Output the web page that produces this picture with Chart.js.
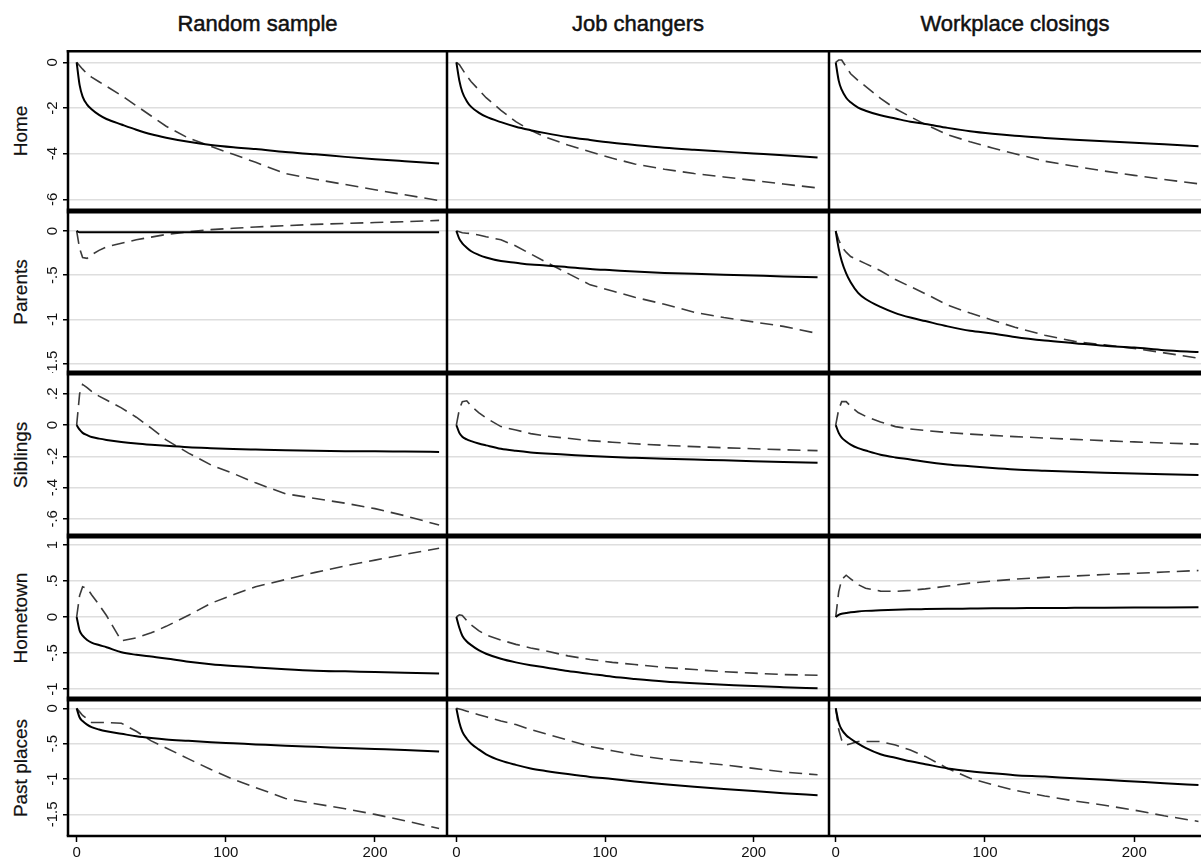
<!DOCTYPE html>
<html lang="en">
<head>
<meta charset="UTF-8">
<title>Distance profiles</title>
<script src="https://cdn.jsdelivr.net/npm/chart.js"></script>
<style>
  html, body { margin: 0; padding: 0; }
  body {
    width: 1201px; height: 865px; overflow: hidden; position: relative;
    background: #fff; color: #111;
    font-family: 'Liberation Sans', Arial, sans-serif;
  }
  canvas { position: absolute; }
  .coltitle {
    position: absolute; top: 13px; height: 22px; line-height: 22px;
    text-align: center; font-size: 22px; -webkit-text-stroke: 0.5px #111;
  }
  .rowlabel { position: absolute; left: 20px; width: 0; height: 0; }
  .rowlabel span {
    position: absolute; left: 0; top: 0; white-space: nowrap;
    font-size: 19px; line-height: 19px; -webkit-text-stroke: 0.2px #111;
    transform: translate(-50%, -50%) rotate(-90deg);
  }
</style>
</head>
<body>
<script>
// months since move (shared x grid for every series)
const X = [0, 2, 4, 7, 10, 15, 20, 30, 40, 50, 60, 75, 90, 105, 120, 140, 160, 180, 200, 220, 243];
const xTicks = [0, 100, 200];

const columns = ['Random sample', 'Job changers', 'Workplace closings'];
const rows = ['Home', 'Parents', 'Siblings', 'Hometown', 'Past places'];

const yTicksHome = [0, -2, -4, -6];
const yTicksParents = [0, -0.5, -1, -1.5];
const yTicksSiblings = [0.2, 0, -0.2, -0.4, -0.6];
const yTicksHometown = [1, 0.5, 0, -0.5, -1];
const yTicksPast = [0, -0.5, -1, -1.5];

const yRangeHome = [-6.51, 0.54];
const yRangeParents = [-1.608, 0.226];
const yRangeSiblings = [-0.71, 0.333];
const yRangeHometown = [-1.139, 1.125];
const yRangePast = [-1.806, 0.132];

// Home
const homeRandomSolid   = [0, -1.0, -1.5, -1.85, -2.05, -2.3, -2.48, -2.72, -2.95, -3.15, -3.3, -3.48, -3.62, -3.72, -3.8, -3.93, -4.03, -4.14, -4.24, -4.33, -4.43];
const homeRandomDashed  = [0, -0.15, -0.3, -0.5, -0.65, -0.85, -1.05, -1.45, -1.9, -2.35, -2.8, -3.32, -3.68, -4.03, -4.38, -4.87, -5.12, -5.35, -5.58, -5.8, -6.05];
const homeJobSolid      = [0, -0.8, -1.3, -1.7, -1.95, -2.2, -2.38, -2.62, -2.82, -2.97, -3.1, -3.27, -3.4, -3.52, -3.62, -3.74, -3.83, -3.91, -3.99, -4.07, -4.17];
const homeJobDashed     = [0, -0.1, -0.3, -0.6, -0.85, -1.2, -1.55, -2.1, -2.6, -2.98, -3.27, -3.62, -3.92, -4.2, -4.45, -4.68, -4.87, -5.02, -5.17, -5.33, -5.5];
const homeClosingSolid  = [0, -0.8, -1.2, -1.55, -1.75, -1.98, -2.12, -2.32, -2.46, -2.6, -2.7, -2.87, -3.02, -3.13, -3.22, -3.31, -3.39, -3.46, -3.52, -3.59, -3.67];
const homeClosingDashed = [0, 0.1, 0.1, -0.2, -0.5, -0.8, -1.05, -1.58, -2.03, -2.38, -2.72, -3.17, -3.48, -3.75, -4.0, -4.33, -4.55, -4.76, -4.95, -5.13, -5.32];

// Parents
const parentsRandomSolid   = [0, -0.015, -0.015, -0.015, -0.015, -0.015, -0.015, -0.015, -0.015, -0.015, -0.015, -0.015, -0.015, -0.015, -0.015, -0.015, -0.015, -0.015, -0.015, -0.015, -0.015];
const parentsRandomDashed  = [0, -0.2, -0.3, -0.31, -0.27, -0.22, -0.18, -0.14, -0.1, -0.07, -0.04, -0.01, 0.015, 0.03, 0.045, 0.06, 0.075, 0.085, 0.095, 0.105, 0.12];
const parentsJobSolid      = [0, -0.09, -0.14, -0.19, -0.23, -0.27, -0.3, -0.34, -0.36, -0.38, -0.39, -0.41, -0.43, -0.445, -0.46, -0.475, -0.485, -0.495, -0.505, -0.515, -0.525];
const parentsJobDashed     = [0, -0.01, -0.02, -0.025, -0.03, -0.045, -0.065, -0.1, -0.17, -0.26, -0.35, -0.48, -0.61, -0.68, -0.75, -0.83, -0.92, -0.98, -1.03, -1.08, -1.16];
const parentsClosingSolid  = [0, -0.2, -0.34, -0.48, -0.58, -0.7, -0.77, -0.86, -0.93, -0.98, -1.02, -1.08, -1.13, -1.16, -1.2, -1.24, -1.27, -1.3, -1.32, -1.35, -1.37];
const parentsClosingDashed = [0, -0.1, -0.18, -0.24, -0.29, -0.33, -0.37, -0.45, -0.55, -0.63, -0.71, -0.84, -0.93, -1.01, -1.09, -1.18, -1.25, -1.29, -1.33, -1.38, -1.44];

// Siblings
const siblingsRandomSolid   = [0, -0.03, -0.05, -0.065, -0.077, -0.087, -0.095, -0.108, -0.118, -0.126, -0.133, -0.142, -0.148, -0.153, -0.157, -0.162, -0.165, -0.167, -0.168, -0.17, -0.172];
const siblingsRandomDashed  = [0, 0.2, 0.26, 0.24, 0.215, 0.185, 0.16, 0.11, 0.05, -0.02, -0.095, -0.18, -0.255, -0.31, -0.37, -0.44, -0.47, -0.5, -0.535, -0.58, -0.64];
const siblingsJobSolid      = [0, -0.05, -0.075, -0.092, -0.103, -0.118, -0.13, -0.152, -0.165, -0.175, -0.182, -0.19, -0.198, -0.205, -0.21, -0.216, -0.221, -0.226, -0.231, -0.236, -0.241];
const siblingsJobDashed     = [0, 0.1, 0.15, 0.155, 0.12, 0.08, 0.045, -0.01, -0.032, -0.055, -0.07, -0.085, -0.1, -0.11, -0.12, -0.13, -0.138, -0.145, -0.152, -0.158, -0.164];
const siblingsClosingSolid  = [0, -0.05, -0.08, -0.105, -0.125, -0.148, -0.163, -0.19, -0.207, -0.22, -0.235, -0.252, -0.264, -0.275, -0.284, -0.292, -0.299, -0.305, -0.31, -0.315, -0.32];
const siblingsClosingDashed = [0, 0.1, 0.15, 0.15, 0.12, 0.08, 0.056, 0.02, -0.01, -0.025, -0.035, -0.048, -0.058, -0.066, -0.074, -0.083, -0.092, -0.1, -0.108, -0.115, -0.122];

// Hometown
const hometownRandomSolid   = [0, -0.19, -0.26, -0.32, -0.355, -0.39, -0.42, -0.49, -0.525, -0.55, -0.575, -0.62, -0.655, -0.68, -0.7, -0.725, -0.745, -0.755, -0.765, -0.775, -0.785];
const hometownRandomDashed  = [0, 0.3, 0.42, 0.4, 0.31, 0.17, 0.02, -0.33, -0.29, -0.22, -0.13, 0.024, 0.19, 0.31, 0.42, 0.52, 0.62, 0.71, 0.79, 0.87, 0.955];
const hometownJobSolid      = [0, -0.15, -0.26, -0.34, -0.39, -0.46, -0.51, -0.58, -0.63, -0.67, -0.7, -0.75, -0.79, -0.83, -0.86, -0.895, -0.92, -0.94, -0.96, -0.975, -0.99];
const hometownJobDashed     = [0, 0.03, 0.02, -0.05, -0.11, -0.19, -0.25, -0.32, -0.38, -0.43, -0.47, -0.54, -0.59, -0.63, -0.66, -0.7, -0.73, -0.76, -0.78, -0.8, -0.81];
const hometownClosingSolid  = [0, 0.03, 0.045, 0.055, 0.065, 0.077, 0.085, 0.095, 0.102, 0.107, 0.11, 0.114, 0.117, 0.12, 0.122, 0.125, 0.127, 0.129, 0.131, 0.133, 0.135];
const hometownClosingDashed = [0, 0.35, 0.52, 0.58, 0.53, 0.45, 0.4, 0.36, 0.355, 0.37, 0.39, 0.43, 0.47, 0.5, 0.525, 0.55, 0.57, 0.59, 0.605, 0.625, 0.645];

// Past places
const pastRandomSolid   = [0, -0.13, -0.18, -0.23, -0.265, -0.3, -0.325, -0.36, -0.395, -0.42, -0.44, -0.46, -0.48, -0.495, -0.51, -0.53, -0.545, -0.56, -0.575, -0.59, -0.61];
const pastRandomDashed  = [0, -0.05, -0.1, -0.15, -0.2, -0.2, -0.2, -0.21, -0.325, -0.46, -0.56, -0.715, -0.865, -1.005, -1.12, -1.275, -1.35, -1.42, -1.5, -1.59, -1.7];
const pastJobSolid      = [0, -0.2, -0.33, -0.43, -0.5, -0.58, -0.65, -0.74, -0.8, -0.85, -0.885, -0.93, -0.97, -1.0, -1.035, -1.075, -1.11, -1.14, -1.17, -1.2, -1.23];
const pastJobDashed     = [0, -0.01, -0.02, -0.04, -0.06, -0.09, -0.12, -0.18, -0.23, -0.3, -0.36, -0.45, -0.54, -0.6, -0.66, -0.72, -0.76, -0.8, -0.85, -0.9, -0.94];
const pastClosingSolid  = [0, -0.2, -0.3, -0.38, -0.43, -0.5, -0.56, -0.65, -0.7, -0.75, -0.79, -0.85, -0.89, -0.92, -0.945, -0.965, -0.99, -1.01, -1.035, -1.06, -1.085];
const pastClosingDashed = [0, -0.3, -0.45, -0.52, -0.5, -0.47, -0.47, -0.47, -0.52, -0.59, -0.68, -0.85, -0.99, -1.08, -1.16, -1.24, -1.31, -1.37, -1.44, -1.52, -1.6];

const yTicks = [yTicksHome, yTicksParents, yTicksSiblings, yTicksHometown, yTicksPast];
const yRanges = [yRangeHome, yRangeParents, yRangeSiblings, yRangeHometown, yRangePast];
const panels = [
  [[homeRandomSolid, homeRandomDashed], [homeJobSolid, homeJobDashed], [homeClosingSolid, homeClosingDashed]],
  [[parentsRandomSolid, parentsRandomDashed], [parentsJobSolid, parentsJobDashed], [parentsClosingSolid, parentsClosingDashed]],
  [[siblingsRandomSolid, siblingsRandomDashed], [siblingsJobSolid, siblingsJobDashed], [siblingsClosingSolid, siblingsClosingDashed]],
  [[hometownRandomSolid, hometownRandomDashed], [hometownJobSolid, hometownJobDashed], [hometownClosingSolid, hometownClosingDashed]],
  [[pastRandomSolid, pastRandomDashed], [pastJobSolid, pastJobDashed], [pastClosingSolid, pastClosingDashed]]
];

// page geometry (plot-area edges in px)
const colEdges = [68, 447, 829, 1211];
const rowEdges = [50, 211, 373, 536, 699, 836];
const xMin = [-5.8, -6.3, -4.5];
const xMax = [248.3, 250.7, 251.4];
const LEFT_AXIS = 40, BOTTOM_AXIS = 28;
const FONT = 'Liberation Sans';
const YFONT = 15;

function fmt(v) {
  return String(v).replace(/^(-?)0\./, '$1.');
}

const measure = document.createElement('canvas').getContext('2d');
measure.font = YFONT + 'px "' + FONT + '"';

const frame = {
  id: 'frame',
  afterDraw(chart, args, opts) {
    const { ctx, chartArea: a } = chart;
    ctx.save();
    ctx.strokeStyle = '#000';
    ctx.lineWidth = 2.5;
    ctx.beginPath();
    ctx.moveTo(a.left, a.top); ctx.lineTo(a.left, a.bottom);
    ctx.moveTo(a.right, a.top); ctx.lineTo(a.right, a.bottom);
    ctx.stroke();
    ctx.lineWidth = 5;
    ctx.beginPath();
    ctx.moveTo(a.left - 1.25, a.top); ctx.lineTo(a.right + 1.25, a.top);
    ctx.stroke();
    ctx.lineWidth = opts.lastRow ? 2.5 : 5;
    ctx.beginPath();
    ctx.moveTo(a.left - 1.25, a.bottom); ctx.lineTo(a.right + 1.25, a.bottom);
    ctx.stroke();
    ctx.restore();
  }
};

function makePanel(r, c) {
  const firstCol = c === 0;
  const lastRow = r === rows.length - 1;
  const leftPad = firstCol ? LEFT_AXIS : 0;
  const bottomPad = lastRow ? BOTTOM_AXIS : 0;
  const w = colEdges[c + 1] - colEdges[c] + leftPad;
  const h = rowEdges[r + 1] - rowEdges[r] + bottomPad;

  const cv = document.createElement('canvas');
  cv.width = w; cv.height = h;
  cv.style.left = (colEdges[c] - leftPad) + 'px';
  cv.style.top = rowEdges[r] + 'px';
  cv.style.width = w + 'px'; cv.style.height = h + 'px';
  document.body.appendChild(cv);

  const ticks = yTicks[r];
  const widest = Math.max(...ticks.map(t => measure.measureText(fmt(t)).width));
  const [solid, dashed] = panels[r][c];

  new Chart(cv, {
    type: 'line',
    data: {
      datasets: [
        {
          data: X.map((x, i) => ({ x: x, y: solid[i] })),
          borderColor: '#000', borderWidth: 2, pointRadius: 0,
          cubicInterpolationMode: 'monotone'
        },
        {
          data: X.map((x, i) => ({ x: x, y: dashed[i] })),
          borderColor: '#3a3a3a', borderWidth: 1.6, pointRadius: 0,
          borderDash: [13, 7], tension: 0
        }
      ]
    },
    options: {
      responsive: false,
      animation: false,
      devicePixelRatio: 1,
      events: [],
      layout: { padding: 0 },
      plugins: {
        legend: { display: false },
        tooltip: { enabled: false },
        frame: { lastRow: lastRow }
      },
      scales: {
        x: {
          type: 'linear',
          min: xMin[c], max: xMax[c],
          display: lastRow,
          afterBuildTicks: s => { s.ticks = xTicks.map(v => ({ value: v })); },
          afterFit: s => { s.height = bottomPad; s.paddingLeft = 0; s.paddingRight = 0; },
          grid: { drawOnChartArea: false, drawTicks: true, tickLength: 6, tickColor: '#000', tickWidth: 1.5 },
          border: { display: false },
          ticks: {
            autoSkip: false, maxRotation: 0, padding: 2, color: '#111',
            font: { family: FONT, size: 15 }
          }
        },
        y: {
          type: 'linear',
          min: yRanges[r][0], max: yRanges[r][1],
          afterBuildTicks: s => { s.ticks = ticks.map(v => ({ value: v })); },
          afterFit: s => { s.width = leftPad; s.paddingTop = 0; s.paddingBottom = 0; },
          grid: {
            color: '#dedede', lineWidth: 1.5,
            drawTicks: firstCol, tickLength: 5, tickColor: '#000', tickWidth: 1.5
          },
          border: { display: false },
          ticks: {
            display: firstCol,
            autoSkip: false,
            minRotation: 90, maxRotation: 90,
            crossAlign: 'center',
            padding: 10 - widest / 2,
            color: '#111',
            font: { family: FONT, size: YFONT },
            callback: v => fmt(v)
          }
        }
      }
    },
    plugins: [frame]
  });
}

// column titles
const titleBox = [[68, 447], [447, 829], [829, 1201]];
columns.forEach((t, c) => {
  const d = document.createElement('div');
  d.className = 'coltitle';
  d.style.left = titleBox[c][0] + 'px';
  d.style.width = (titleBox[c][1] - titleBox[c][0]) + 'px';
  d.textContent = t;
  document.body.appendChild(d);
});

// row labels
rows.forEach((t, r) => {
  const d = document.createElement('div');
  d.className = 'rowlabel';
  d.style.top = ((rowEdges[r] + rowEdges[r + 1]) / 2) + 'px';
  const s = document.createElement('span');
  s.textContent = t;
  d.appendChild(s);
  document.body.appendChild(d);
});

for (let r = 0; r < rows.length; r++) {
  for (let c = 0; c < columns.length; c++) {
    makePanel(r, c);
  }
}
</script>
</body>
</html>
